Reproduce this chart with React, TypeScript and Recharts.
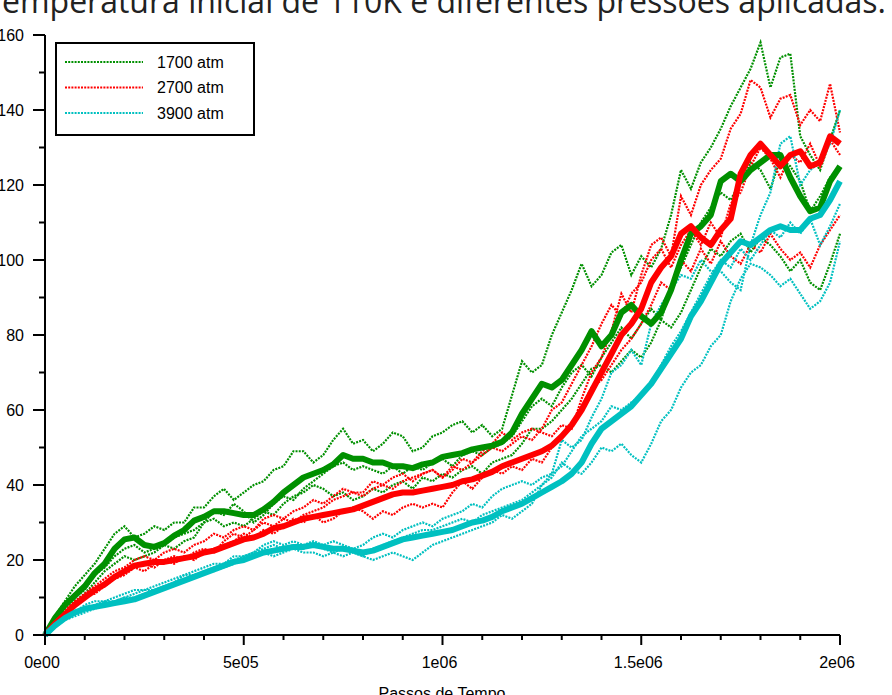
import { LineChart, Line, XAxis, YAxis } from 'recharts';

// x grid (time steps, every 2.5e4)
const STEPS = Array.from({ length: 81 }, (_, i) => i * 25000);

const X_TICKS = Array.from({ length: 21 }, (_, i) => i * 100000);
const X_LABELS: Record<number, string> = { 0: '0e00', 500000: '5e05', 1000000: '1e06', 1500000: '1.5e06', 2000000: '2e06' };
const Y_TICKS = [0, 10, 20, 30, 40, 50, 60, 70, 80, 90, 100, 110, 120, 130, 140, 150, 160];
const Y_LABELS = [0, 20, 40, 60, 80, 100, 120, 140, 160];

const PRESSURES = ['1700 atm', '2700 atm', '3900 atm'];
const COLORS = ['#009000', '#ff0000', '#00c0c0'];

// averages
const mean1700 = [0, 4.5, 8, 10.5, 13, 16.5, 19, 23, 25.5, 26, 24, 23.5, 24.5, 26.5, 28, 30.5, 31.5, 33, 33, 32.5, 32, 32, 33.5, 35.5, 38, 40, 42, 43, 44, 45.5, 48, 47, 47, 46, 46, 45, 45, 44.5, 45.5, 46, 47.5, 48, 48.5, 49.5, 50, 50.5, 51.5, 54, 59, 63, 67, 66, 68, 72, 76, 81, 77, 80, 86, 88, 85, 83, 86, 92, 100, 107, 109, 112, 121, 123, 121, 124, 126, 128, 128, 122, 117, 113, 114, 121, 125];
const mean2700 = [0, 3, 5.5, 8, 10, 12, 13.5, 15.5, 17, 18.5, 19, 19.5, 19.5, 20, 20.5, 21, 22, 22.5, 23.5, 24.5, 25.5, 26, 27, 28.5, 29, 30, 31, 31.5, 32, 32.5, 33, 33.5, 34.5, 35.5, 36.5, 37.5, 38, 38, 38.5, 39, 39.5, 40, 41, 41.5, 42.5, 43.5, 45, 46, 47, 48, 49, 50.5, 53, 56, 60, 65, 70, 75, 80, 83, 87, 94, 98, 101, 107, 109, 106, 104, 108, 111, 123, 128, 131, 128, 125, 128, 129, 125, 126, 133, 131];
const mean3900 = [0, 2.5, 4.5, 6, 7, 7.5, 8, 8.5, 9, 9.5, 10.5, 11.5, 12.5, 13.5, 14.5, 15.5, 16.5, 17.5, 18.5, 19.5, 20, 21, 22, 22.5, 23, 23.5, 23.5, 24, 23.5, 23, 23, 22.5, 22, 22.5, 23.5, 24.5, 25.5, 26, 26.5, 27, 27.5, 28, 29, 30, 30.5, 31.5, 33, 34, 35, 36.5, 38, 39.5, 41, 43, 46, 51, 55, 57, 59, 61, 64, 67, 71, 75, 79, 85, 89, 94, 99, 102, 105, 104, 106, 108, 109, 108, 108, 111, 112, 116, 121];

// individual runs
const run1700a = [0, 5, 9, 13, 16, 19, 23, 27, 29, 26, 27, 29, 28, 30, 30, 34, 34, 37, 39, 36, 38, 40, 41, 44, 45, 49, 49, 46, 48, 52, 55, 51, 52, 49, 51, 54, 53, 49, 50, 53, 54, 56, 57, 54, 56, 53, 55, 64, 73, 70, 72, 80, 86, 92, 99, 93, 96, 102, 104, 96, 101, 98, 103, 112, 124, 119, 126, 130, 135, 141, 146, 151, 158, 146, 154, 155, 133, 128, 124, 132, 140];
const run1700b = [0, 4, 7, 10, 12, 16, 18, 21, 23, 24, 22, 23, 24, 26, 27, 28, 30, 33, 32, 35, 33, 30, 32, 35, 37, 36, 39, 41, 43, 45, 46, 44, 45, 44, 43, 45, 43, 45, 44, 46, 47, 45, 48, 49, 48, 50, 51, 53, 57, 61, 63, 61, 66, 70, 72, 69, 74, 78, 82, 79, 83, 87, 84, 93, 98, 104, 110, 114, 118, 116, 121, 126, 124, 119, 127, 125, 121, 113, 117, 122, 125];
const run1700c = [0, 3, 6, 9, 11, 14, 17, 19, 21, 20, 21, 22, 24, 23, 25, 26, 30, 31, 29, 30, 29, 31, 33, 32, 35, 37, 38, 40, 39, 37, 38, 36, 37, 39, 38, 40, 41, 39, 42, 41, 43, 42, 44, 45, 43, 46, 47, 48, 51, 55, 55, 57, 60, 63, 67, 71, 72, 70, 73, 76, 74, 78, 84, 82, 86, 92, 98, 103, 101, 105, 107, 102, 106, 104, 101, 97, 100, 94, 92, 99, 107];
const run2700a = [0, 4, 7, 9, 11, 13, 15, 17, 18, 20, 21, 20, 22, 23, 22, 24, 25, 27, 26, 28, 29, 28, 31, 32, 31, 33, 34, 36, 35, 37, 39, 38, 38, 41, 40, 42, 43, 41, 43, 44, 42, 44, 47, 46, 49, 51, 54, 52, 54, 55, 54, 53, 56, 55, 63, 70, 74, 81, 91, 86, 96, 104, 106, 101, 117, 112, 120, 124, 127, 135, 139, 148, 146, 138, 143, 144, 136, 140, 137, 147, 134];
const run2700b = [0, 3, 6, 8, 10, 12, 14, 15, 17, 18, 17, 19, 20, 19, 21, 20, 22, 23, 24, 25, 27, 26, 28, 27, 29, 31, 30, 32, 30, 31, 33, 34, 33, 31, 33, 32, 34, 35, 34, 35, 34, 38, 41, 39, 42, 44, 43, 45, 44, 47, 46, 50, 53, 56, 61, 66, 68, 72, 76, 79, 83, 88, 94, 92, 100, 97, 103, 99, 105, 101, 99, 104, 102, 107, 103, 100, 102, 98, 104, 108, 112];
const run2700c = [0, 3, 6, 8, 10, 11, 13, 15, 16, 18, 19, 18, 20, 21, 20, 22, 23, 22, 25, 27, 26, 28, 30, 29, 31, 30, 32, 33, 34, 36, 37, 38, 37, 39, 40, 39, 41, 42, 43, 44, 42, 45, 44, 46, 48, 50, 49, 51, 53, 52, 55, 60, 62, 67, 72, 77, 83, 88, 85, 91, 94, 100, 103, 98, 104, 108, 104, 110, 106, 115, 118, 125, 130, 127, 122, 128, 126, 131, 125, 132, 128];
const run3900a = [0, 3, 5, 6, 8, 9, 9, 10, 11, 12, 12, 13, 14, 15, 16, 17, 18, 19, 19, 21, 21, 22, 24, 25, 24, 25, 24, 25, 24, 25, 24, 23, 24, 26, 27, 26, 28, 29, 30, 29, 31, 32, 33, 35, 34, 37, 39, 40, 41, 40, 42, 43, 52, 50, 52, 58, 63, 70, 72, 76, 72, 83, 88, 92, 96, 95, 100, 97, 97, 94, 92, 104, 112, 118, 131, 133, 120, 124, 126, 131, 140];
const run3900b = [0, 2, 4, 5, 6, 7, 8, 9, 10, 10, 11, 12, 13, 14, 15, 16, 17, 17, 18, 19, 20, 21, 22, 21, 22, 23, 22, 22, 21, 22, 21, 22, 21, 20, 21, 22, 21, 20, 22, 24, 25, 26, 27, 28, 29, 30, 32, 31, 33, 35, 40, 42, 46, 44, 43, 46, 50, 49, 51, 48, 46, 51, 57, 60, 66, 70, 72, 77, 80, 89, 95, 99, 98, 96, 93, 95, 91, 87, 89, 94, 105];
const run3900c = [0, 3, 5, 6, 7, 8, 9, 9, 10, 11, 12, 12, 13, 14, 16, 16, 17, 18, 19, 20, 21, 22, 23, 24, 23, 24, 23, 24, 23, 22, 23, 22, 21, 23, 24, 25, 26, 27, 28, 28, 29, 30, 31, 30, 32, 33, 34, 35, 36, 38, 40, 43, 45, 49, 53, 55, 57, 61, 60, 62, 64, 67, 72, 77, 81, 86, 91, 96, 100, 98, 103, 100, 104, 108, 106, 110, 107, 111, 104, 109, 115];

const toPoints = (vals: number[]) => STEPS.map((t, i) => ({ t, v: vals[i] }));

const RUNS = [
  { c: 0, d: run1700a }, { c: 0, d: run1700b }, { c: 0, d: run1700c },
  { c: 1, d: run2700a }, { c: 1, d: run2700b }, { c: 1, d: run2700c },
  { c: 2, d: run3900a }, { c: 2, d: run3900b }, { c: 2, d: run3900c },
];
const MEANS = [mean1700, mean2700, mean3900];

const FONT = '"Liberation Sans", Arial, sans-serif';
const DOTS = '2 1.2';

const YTick = ({ x, y, payload }: any) => {
  const major = Y_LABELS.includes(payload.value);
  return (
    <g>
      <line x1={x - (major ? 12 : 6)} x2={x} y1={y} y2={y} stroke="#000" strokeWidth={2} />
      {major && (
        <text x={x - 21} y={y} dy={5.5} textAnchor="end" fontFamily={FONT} fontSize={16} fill="#000">
          {payload.value}
        </text>
      )}
    </g>
  );
};

const XTick = ({ x, y, payload }: any) => {
  const label = X_LABELS[payload.value];
  return (
    <g>
      <line x1={x} x2={x} y1={y} y2={y + (label ? 10 : 5)} stroke="#000" strokeWidth={2} />
      {label && (
        <text x={x - 3} y={y + 33} textAnchor="middle" fontFamily={FONT} fontSize={16} fill="#000">
          {label}
        </text>
      )}
    </g>
  );
};

export default function App() {
  return (
    <div style={{ position: 'absolute', left: 0, top: 0, width: 892, height: 695, overflow: 'hidden', background: '#fff' }}>
      <LineChart width={892} height={695} margin={{ top: 35, right: 52, bottom: 20, left: 0 }}>
        <XAxis
          type="number"
          dataKey="t"
          domain={[0, 2000000]}
          ticks={X_TICKS}
          interval={0}
          height={40}
          tickSize={0}
          tickMargin={0}
          tickLine={false}
          tick={<XTick />}
          axisLine={{ stroke: '#000', strokeWidth: 2 }}
        />
        <YAxis
          type="number"
          domain={[0, 160]}
          ticks={Y_TICKS}
          interval={0}
          width={45}
          tickSize={0}
          tickMargin={0}
          tickLine={false}
          tick={<YTick />}
          axisLine={{ stroke: '#000', strokeWidth: 2 }}
        />
        {RUNS.map((r, i) => (
          <Line
            key={'run' + i}
            data={toPoints(r.d)}
            dataKey="v"
            type="linear"
            stroke={COLORS[r.c]}
            strokeWidth={2.2}
            strokeDasharray={DOTS}
            dot={false}
            isAnimationActive={false}
          />
        ))}
        {MEANS.map((m, i) => (
          <Line
            key={'mean' + i}
            data={toPoints(m)}
            dataKey="v"
            type="linear"
            stroke={COLORS[i]}
            strokeWidth={6}
            strokeLinejoin="round"
            dot={false}
            isAnimationActive={false}
          />
        ))}
      </LineChart>
      <svg width={892} height={695} style={{ position: 'absolute', left: 0, top: 0, pointerEvents: 'none' }}>
        <text x={886} y={13} textAnchor="end" fontFamily='"Open Sans", "Noto Sans", sans-serif' fontSize={32} fill="#222">
          Temperatura inicial de 110K e diferentes pressões aplicadas.
        </text>
        <text x={442} y={699} textAnchor="middle" fontFamily={FONT} fontSize={16} fill="#000">
          Passos de Tempo
        </text>
        <rect x={56} y={43} width={198} height={92} fill="#fff" stroke="#000" strokeWidth={2} />
        {PRESSURES.map((p, i) => (
          <g key={p}>
            <line x1={65} x2={143} y1={62 + i * 25.5} y2={62 + i * 25.5} stroke={COLORS[i]} strokeWidth={2.2} strokeDasharray={DOTS} />
            <text x={157} y={62 + i * 25.5} dy={5.5} fontFamily={FONT} fontSize={16} fill="#000">
              {p}
            </text>
          </g>
        ))}
      </svg>
    </div>
  );
}
